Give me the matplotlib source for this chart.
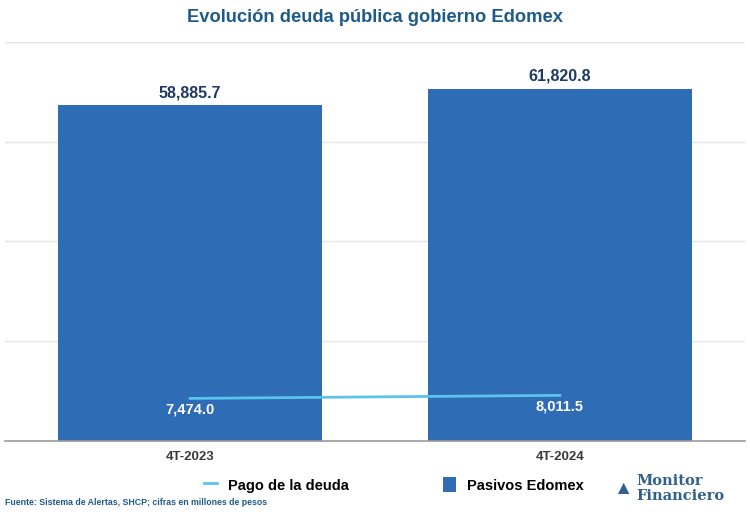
import matplotlib
matplotlib.use('Agg')
import matplotlib.pyplot as plt
from matplotlib.lines import Line2D
from matplotlib.patches import Patch

plt.rcParams['font.family'] = ['Liberation Sans', 'DejaVu Sans']

# data
periodos = ['4T-2023', '4T-2024']
pasivos = [58885.7, 61820.8]
pago_deuda = [7474.0, 8011.5]

bar_color = '#2E6CB5'
line_color = '#5BC2EC'
title_color = '#1D5A8A'

fig = plt.figure(figsize=(7.5, 5.18), dpi=100)
ax = fig.add_axes([0.007, 0.1486, 0.986, 0.7704])

x = range(len(periodos))
ax.bar(x, pasivos, width=0.714, color=bar_color, zorder=2)
ax.plot(x, pago_deuda, color=line_color, linewidth=2, zorder=3)

for i, v in enumerate(pasivos):
    ax.text(i, v + 900, '{:,.1f}'.format(v), ha='center', va='bottom',
            fontsize=11.5, fontweight='bold', color='#1F3864')
for i, v in enumerate(pago_deuda):
    ax.text(i, v - 800, '{:,.1f}'.format(v), ha='center', va='top',
            fontsize=10.5, fontweight='bold', color='white', zorder=4)

ax.set_xlim(-0.5, 1.5)
ax.set_ylim(0, 70000)
ax.set_yticks([0, 17500, 35000, 52500, 70000])
ax.set_yticklabels([])
ax.tick_params(axis='y', length=0)
ax.tick_params(axis='x', length=0, pad=7)
ax.set_xticks(list(x))
ax.set_xticklabels(periodos, fontsize=9.5, fontweight='bold', color='#3a3a3a')
ax.grid(axis='y', color='#e6e6e6', linewidth=1, zorder=0)
for s in ['top', 'right', 'left']:
    ax.spines[s].set_visible(False)
ax.spines['bottom'].set_color('#9a9a9a')
ax.spines['bottom'].set_linewidth(1.2)

fig.text(0.5, 0.966, 'Evolución deuda pública gobierno Edomex', ha='center', va='center',
         fontsize=13.2, fontweight='bold', color=title_color)

handles = [Line2D([0], [0], color=line_color, linewidth=2),
           Patch(facecolor=bar_color)]
fig.legend(handles, ['Pago de la deuda', 'Pasivos Edomex'], loc='center',
           bbox_to_anchor=(0.525, 0.064), ncol=2, frameon=False,
           prop={'size': 10.5, 'weight': 'bold'}, handlelength=0.9,
           handleheight=1.2, columnspacing=6.5, handletextpad=0.7)

fig.text(0.007, 0.03, 'Fuente: Sistema de Alertas, SHCP; cifras en millones de pesos',
         fontsize=6.3, fontweight='bold', color=title_color, va='center')

# logo
fig.text(0.848, 0.071, 'Monitor', family='DejaVu Serif', fontsize=10.5, fontweight='bold',
         color='#2F5F8A', va='center', ha='left')
fig.text(0.848, 0.043, 'Financiero', family='DejaVu Serif', fontsize=10.5, fontweight='bold',
         color='#2F5F8A', va='center', ha='left')
fig.text(0.830, 0.055, '\u25B2', fontsize=14, color='#2F5F8A', va='center', ha='center')

fig.savefig('out.png', dpi=100)
